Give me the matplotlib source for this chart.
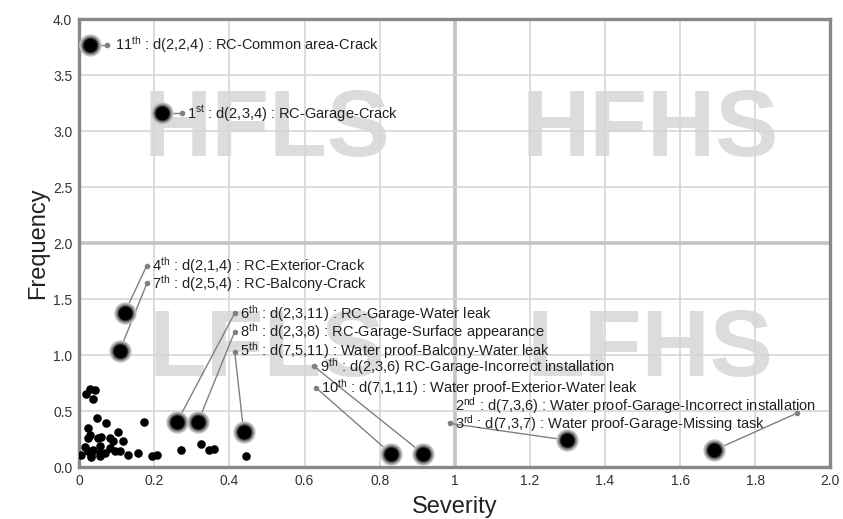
import matplotlib
matplotlib.use("Agg")
import matplotlib.pyplot as plt

plt.rcParams['font.family'] = ['Liberation Sans', 'DejaVu Sans']
plt.rcParams['mathtext.fontset'] = 'custom'
plt.rcParams['mathtext.rm'] = 'Liberation Sans'
plt.rcParams['mathtext.it'] = 'Liberation Sans'

# ---- data ----
small_sev = [0.028, 0.041, 0.019, 0.037, 0.046, 0.071, 0.173, 0.023, 0.028, 0.103,
             0.023, 0.050, 0.059, 0.081, 0.117, 0.055, 0.015, 0.090, 0.081, 0.037,
             0.023, 0.004, 0.032, 0.055, 0.068, 0.095, 0.108, 0.130, 0.157, 0.194,
             0.207, 0.055, 0.272, 0.325, 0.346, 0.360, 0.443, 0.030]
small_freq = [0.70, 0.69, 0.65, 0.61, 0.44, 0.39, 0.40, 0.35, 0.29, 0.31,
              0.26, 0.26, 0.27, 0.26, 0.23, 0.19, 0.18, 0.23, 0.17, 0.15,
              0.14, 0.11, 0.11, 0.13, 0.13, 0.14, 0.14, 0.11, 0.13, 0.10,
              0.11, 0.10, 0.15, 0.21, 0.15, 0.16, 0.10, 0.09]

top_rank = ["11th", "1st", "4th", "7th", "6th", "8th", "5th", "9th", "10th", "2nd", "3rd"]
top_sev = [0.028, 0.220, 0.121, 0.108, 0.260, 0.316, 0.438, 0.915, 0.830, 1.690, 1.300]
top_freq = [3.77, 3.16, 1.38, 1.04, 0.40, 0.40, 0.31, 0.12, 0.12, 0.15, 0.24]
top_label = [
    "d(2,2,4) : RC-Common area-Crack",
    "d(2,3,4) : RC-Garage-Crack",
    "d(2,1,4) : RC-Exterior-Crack",
    "d(2,5,4) : RC-Balcony-Crack",
    "d(2,3,11) : RC-Garage-Water leak",
    "d(2,3,8) : RC-Garage-Surface appearance",
    "d(7,5,11) : Water proof-Balcony-Water leak",
    "d(2,3,6) RC-Garage-Incorrect installation",
    "d(7,1,11) : Water proof-Exterior-Water leak",
    "d(7,3,6) : Water proof-Garage-Incorrect installation",
    "d(7,3,7) : Water proof-Garage-Missing task",
]
# leader-line end points and text anchors
lead_x = [0.073, 0.273, 0.180, 0.180, 0.414, 0.414, 0.414, 0.625, 0.630, 1.910, 0.987]
lead_y = [3.77, 3.16, 1.80, 1.64, 1.375, 1.21, 1.03, 0.90, 0.71, 0.48, 0.39]
text_x = [0.095, 0.287, 0.193, 0.193, 0.427, 0.427, 0.427, 0.640, 0.643, 1.000, 1.000]
text_y = [3.77, 3.16, 1.80, 1.64, 1.375, 1.21, 1.04, 0.90, 0.71, 0.55, 0.39]

quad_names = ["HFLS", "HFHS", "LFLS", "LFHS"]
quad_x = [0.50, 1.52, 0.50, 1.52]
quad_y = [3.0, 3.0, 1.03, 1.03]

xticks = [0, 0.2, 0.4, 0.6, 0.8, 1.0, 1.2, 1.4, 1.6, 1.8, 2.0]
xticklabels = ["0", "0.2", "0.4", "0.6", "0.8", "1", "1.2", "1.4", "1.6", "1.8", "2.0"]
yticks = [0.0, 0.5, 1.0, 1.5, 2.0, 2.5, 3.0, 3.5, 4.0]
yticklabels = ["0.0", "0.5", "1.0", "1.5", "2.0", "2.5", "3.0", "3.5", "4.0"]

# ---- figure ----
fig = plt.figure(figsize=(8.43, 5.19), dpi=100)
ax = fig.add_axes([0.094, 0.100, 0.891, 0.863])
ax.set_xlim(0, 2.0)
ax.set_ylim(0, 4.0)

# grid
for xv in xticks[1:-1]:
    if xv == 1.0:
        ax.axvline(xv, color='#c4c4c4', lw=2.6, zorder=1)
    else:
        ax.axvline(xv, color='#d6d6d6', lw=1.2, zorder=1)
for yv in yticks[1:-1]:
    if yv == 2.0:
        ax.axhline(yv, color='#c4c4c4', lw=2.6, zorder=1)
    else:
        ax.axhline(yv, color='#d6d6d6', lw=1.2, zorder=1)

# watermark quadrant names
for name, qx, qy in zip(quad_names, quad_x, quad_y):
    ax.text(qx, qy, name, fontsize=68, fontweight='bold', color='#dcdcdc',
            ha='center', va='center', zorder=0.5)

# small points
ax.scatter(small_sev, small_freq, s=38, color='black', zorder=3, linewidths=0)

# leader lines
for sx, sy, lx, ly in zip(top_sev, top_freq, lead_x, lead_y):
    ax.plot([sx, lx], [sy, ly], color='#808080', lw=1.0, zorder=2)
    ax.plot([lx], [ly], marker='o', ms=3, color='#808080', zorder=2)

# highlighted points with soft halo
halo = [(260, '#c8c8c8'), (205, '#a0a0a0'), (160, '#707070'), (125, '#383838'), (95, '#000000')]
for s, c in halo:
    ax.scatter(top_sev, top_freq, s=s, color=c, zorder=3, linewidths=0)

# labels
for rk, lab, tx, ty in zip(top_rank, top_label, text_x, text_y):
    num, suf = rk[:-2], rk[-2:]
    s = num + r"$^{\mathrm{" + suf + "}}$ : " + lab
    ax.text(tx, ty, s, fontsize=10.5, ha='left', va='center', color='#222222', zorder=5)

ax.set_xticks(xticks)
ax.set_xticklabels(xticklabels)
ax.set_yticks(yticks)
ax.set_yticklabels(yticklabels)
ax.tick_params(length=0, labelsize=10, colors='#333333', pad=5)

for sp in ax.spines.values():
    sp.set_color('#888888')
    sp.set_linewidth(2.4)

ax.set_xlabel("Severity", fontsize=17, color='#222222', labelpad=6)
ax.set_ylabel("Frequency", fontsize=17, color='#222222', labelpad=3)

fig.savefig("out.png", dpi=100)
